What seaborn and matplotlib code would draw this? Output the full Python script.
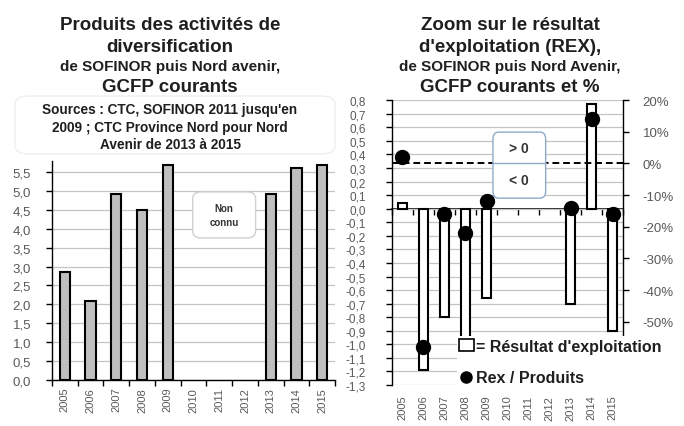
import numpy as np
import pandas as pd
import matplotlib
matplotlib.use("Agg")
import matplotlib.pyplot as plt
import seaborn as sns
from matplotlib.patches import FancyBboxPatch, Patch
from matplotlib.lines import Line2D
from matplotlib.ticker import FixedLocator, FuncFormatter

# ---------------- data ----------------
years = ["2005", "2006", "2007", "2008", "2009", "2010", "2011", "2012", "2013", "2014", "2015"]
produits = [2.85, 2.08, 4.93, 4.51, 5.70, np.nan, np.nan, np.nan, 4.93, 5.60, 5.70]      # M GCFP
rex = [0.045, -1.19, -0.80, -1.00, -0.66, np.nan, np.nan, np.nan, -0.70, 0.77, -0.90]   # M GCFP
rex_sur_produits = [2, -58, -16, -22, -12, np.nan, np.nan, np.nan, -14, 14, -16]          # %

left_yticks = [0.0, 0.5, 1.0, 1.5, 2.0, 2.5, 3.0, 3.5, 4.0, 4.5, 5.0, 5.5]
right_yticks = [0.8, 0.7, 0.6, 0.5, 0.4, 0.3, 0.2, 0.1, 0.0, -0.1, -0.2, -0.3, -0.4,
                -0.5, -0.6, -0.7, -0.8, -0.9, -1.0, -1.1, -1.2, -1.3]
pct_ticks = [20, 10, 0, -10, -20, -30, -40, -50]

# ---------------- style ----------------
sns.set_theme(style="white")
plt.rcParams["font.family"] = ["Liberation Sans", "DejaVu Sans"]
TXT = "#1f1f1f"
TICK = "#595959"
GRID = "#c4c4c4"

fig = plt.figure(figsize=(6.84, 4.27), dpi=100)

def comma(v, _=None):
    v = round(v, 1)
    if v == 0:
        v = 0.0
    return f"{v:.1f}".replace(".", ",")

# ---------------- left chart ----------------
ax1 = fig.add_axes([0.076, 0.108, 0.414, 0.513])
df1 = pd.DataFrame({"annee": years, "produits": produits}).dropna()
sns.barplot(data=df1, x="annee", y="produits", order=years, ax=ax1,
            color="#bfbfbf", saturation=1, edgecolor="black", linewidth=1.5,
            width=0.4, errorbar=None)
ax1.set_ylim(0, 5.8)
ax1.set_xlim(-0.5, len(years) - 0.5)
ax1.yaxis.set_major_locator(FixedLocator(left_yticks))
ax1.yaxis.set_major_formatter(FuncFormatter(comma))
ax1.yaxis.grid(True, color=GRID, lw=0.9)
ax1.set_axisbelow(True)
ax1.set_xlabel("")
ax1.set_ylabel("")
for s in ["top", "right"]:
    ax1.spines[s].set_visible(False)
for s in ["left", "bottom"]:
    ax1.spines[s].set_color("black")
    ax1.spines[s].set_linewidth(1.0)
ax1.set_xticks(np.arange(-0.5, len(years), 1.0), minor=True)
ax1.tick_params(axis="x", which="major", length=0, labelsize=8, labelcolor=TICK,
                labelrotation=90, pad=5)
ax1.tick_params(axis="x", which="minor", bottom=True, length=4, width=1, color="black",
                direction="out")
ax1.tick_params(axis="y", left=True, length=4, width=1, color="black", direction="out",
                labelsize=9.5, labelcolor=TICK, pad=11)

# "Non connu" box
ax1.add_patch(FancyBboxPatch((0.497, 0.648), 0.222, 0.21, transform=ax1.transAxes,
                             boxstyle="round,pad=0,rounding_size=0.03",
                             facecolor="white", edgecolor="#d0d0d0", lw=1.0, zorder=4))
ax1.text(0.608, 0.753, "Non\nconnu", transform=ax1.transAxes, ha="center", va="center",
         fontsize=7, fontweight="bold", color="#333333", zorder=5, linespacing=1.4)

# ---------------- right chart ----------------
ax2 = fig.add_axes([0.573, 0.096, 0.338, 0.667])
df2 = pd.DataFrame({"annee": years, "rex": rex}).dropna()
sns.barplot(data=df2, x="annee", y="rex", order=years, ax=ax2,
            color="white", saturation=1, edgecolor="black", linewidth=1.5,
            width=0.42, errorbar=None)
ax2.set_ylim(-1.3, 0.8)
ax2.set_xlim(-0.5, len(years) - 0.5)
ax2.yaxis.set_major_locator(FixedLocator(right_yticks))
ax2.yaxis.set_major_formatter(FuncFormatter(comma))
ax2.yaxis.grid(True, color=GRID, lw=0.9)
ax2.set_axisbelow(True)
ax2.set_xlabel("")
ax2.set_ylabel("")
for s in ["top", "right", "bottom"]:
    ax2.spines[s].set_visible(False)
ax2.spines["left"].set_color("black")
ax2.spines["left"].set_linewidth(1.0)
ax2.tick_params(axis="x", which="major", length=0, labelsize=8, labelcolor=TICK,
                labelrotation=90, pad=7)
ax2.tick_params(axis="y", left=True, length=4, width=1, color="black", direction="out",
                labelsize=8.5, labelcolor=TICK, pad=15)

# category axis crossing at 0
sec = ax2.secondary_xaxis(0, transform=ax2.transData)
sec.set_xticks(np.arange(-0.5, len(years), 1.0))
sec.set_xticklabels([])
sec.tick_params(axis="x", length=4, width=1, color="black", direction="out")
sec.spines["bottom"].set_color("black")
sec.spines["bottom"].set_linewidth(1.2)

# secondary y axis: REX / Produits
ax3 = ax2.twinx()
df3 = pd.DataFrame({"annee": years, "ratio": rex_sur_produits}).dropna()
sns.pointplot(data=df3, x="annee", y="ratio", order=years, ax=ax3, color="black",
              linestyle="none", marker="o", markersize=9, errorbar=None)
ax3.set_ylim(-70, 20)
ax3.set_xlim(-0.5, len(years) - 0.5)
ax3.yaxis.set_major_locator(FixedLocator(pct_ticks))
ax3.yaxis.set_major_formatter(FuncFormatter(lambda v, _: f"{int(round(v))}%"))
ax3.set_ylabel("")
ax3.grid(False)
for s in ["top", "left", "bottom"]:
    ax3.spines[s].set_visible(False)
ax3.spines["right"].set_visible(True)
ax3.spines["right"].set_color("black")
ax3.spines["right"].set_linewidth(1.0)
ax3.spines["right"].set_bounds(-56, 20)
ax3.tick_params(axis="y", right=True, length=4, width=1, color="black", direction="out",
                labelsize=9.5, labelcolor=TICK, pad=10)

ax3.axhline(0, color="black", lw=1.4, ls=(0, (3.5, 2)), zorder=1)

# >0 / <0 box
BOX = "#8eaacb"
ax3.add_patch(FancyBboxPatch((0.437, 0.656), 0.228, 0.232, transform=ax3.transAxes,
                             boxstyle="round,pad=0,rounding_size=0.025",
                             facecolor="white", edgecolor=BOX, lw=1.0, zorder=4))
ax3.plot([0.437, 0.665], [0.778, 0.778], transform=ax3.transAxes, color=BOX, lw=1.0,
         zorder=5)
ax3.text(0.551, 0.832, "> 0", transform=ax3.transAxes, ha="center", va="center",
         fontsize=10, fontweight="bold", color="#333333", zorder=6)
ax3.text(0.551, 0.720, "< 0", transform=ax3.transAxes, ha="center", va="center",
         fontsize=10, fontweight="bold", color="#333333", zorder=6)

handles = [Patch(facecolor="white", edgecolor="black", lw=1.2),
           Line2D([], [], marker="o", color="black", ls="none", markersize=8)]
labels = ["= Résultat d'exploitation", "Rex / Produits"]
leg = ax3.legend(handles, labels, loc="upper left", bbox_to_anchor=(0.668, 0.075, 0.33, 0.135),
                 bbox_transform=fig.transFigure, mode="expand", frameon=True,
                 facecolor="white", edgecolor="none", framealpha=1, fancybox=False,
                 borderpad=0.15, handlelength=0.9, handleheight=0.8, handletextpad=0.15,
                 labelspacing=1.05, borderaxespad=0,
                 prop={"size": 11.5, "weight": "bold"})
for t in leg.get_texts():
    t.set_color(TXT)
leg.set_zorder(10)

# ---------------- titles ----------------
def line(x, y, s, size, weight="bold"):
    fig.text(x, 1 - y / 427, s, ha="center", va="center", fontsize=size,
             fontweight=weight, color=TXT)

lx = 170 / 684
line(lx, 25, "Produits des activités de", 13.5)
line(lx, 47, "diversification", 13.5)
line(lx, 67, "de SOFINOR puis Nord avenir,", 11)
line(lx, 87, "GCFP courants", 13.5)
line(lx, 110, "Sources : CTC, SOFINOR 2011 jusqu'en", 9.8)
line(lx, 128, "2009 ; CTC Province Nord pour Nord", 9.8)
line(lx, 145, "Avenir de 2013 à 2015", 9.8)

fig.patches.append(FancyBboxPatch((15 / 684, 1 - 155 / 427), 320 / 684, 58 / 427,
                                  transform=fig.transFigure,
                                  boxstyle="round,pad=0,rounding_size=0.02",
                                  facecolor="none", edgecolor="#efefef", lw=1.0))

rx = 510 / 684
line(rx, 25, "Zoom sur le résultat", 13.5)
line(rx, 47, "d'exploitation (REX),", 13.5)
line(rx, 67, "de SOFINOR puis Nord Avenir,", 11)
line(rx, 87, "GCFP courants et %", 13.5)

fig.savefig("out.png", dpi=100)
